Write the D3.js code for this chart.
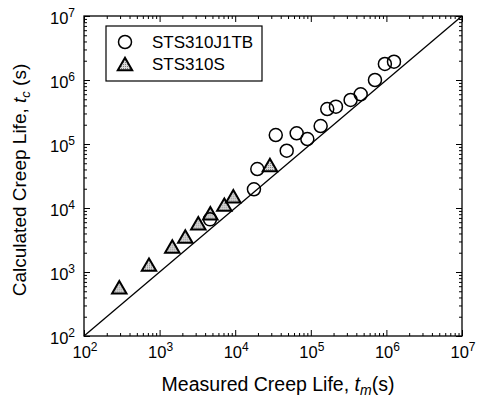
<!DOCTYPE html>
<html>
<head>
<meta charset="utf-8">
<script src="https://cdn.jsdelivr.net/npm/d3@7"></script>
<style>
  html, body { margin: 0; padding: 0; background: #fff; }
  svg { display: block; font-family: "Liberation Sans", Arial, sans-serif; }
</style>
</head>
<body>
<svg id="chart" width="477" height="401"></svg>
<script>
// Measured vs calculated creep life (seconds)
const seriesNames = ["STS310J1TB", "STS310S"];

const j1tbMeasured   = [4640, 17700, 19600, 34400, 48000, 65000, 90000, 135000, 165000, 215000, 336000, 457000, 706000, 955000, 1260000];
const j1tbCalculated = [6650, 19600, 40600, 138000, 78500, 147000, 119700, 191000, 352000, 383000, 487000, 598000, 1000000, 1780000, 1930000];

const s310Measured   = [293, 724, 1472, 2187, 3250, 4690, 7180, 9440, 28800];
const s310Calculated = [556, 1254, 2400, 3436, 5560, 7950, 10860, 14700, 45300];

const decadeTicks = [1e2, 1e3, 1e4, 1e5, 1e6, 1e7];
const decadeExponents = ["2", "3", "4", "5", "6", "7"];

const svg = d3.select("#chart");
const margin = { left: 84, right: 15, top: 16, bottom: 65 };
const W = 477, H = 401;
const x0 = margin.left, x1 = W - margin.right;
const y0 = H - margin.bottom, y1 = margin.top;

const x = d3.scaleLog().domain([1e2, 1e7]).range([x0, x1]);
const y = d3.scaleLog().domain([1e2, 1e7]).range([y0, y1]);

// minor ticks 2..9 in every decade
const minorTicks = [];
for (let e = 2; e < 7; e++) for (let m = 2; m <= 9; m++) minorTicks.push(m * Math.pow(10, e));

function tickAxis(axisGen, transform, major, minor) {
  const g = svg.append("g").attr("transform", transform);
  g.call(axisGen.tickValues(minor).tickSize(3).tickFormat(""));
  const g2 = svg.append("g").attr("transform", transform);
  g2.call(axisGen.tickValues(major).tickSize(6).tickFormat(""));
  [g, g2].forEach(gg => {
    gg.select(".domain").remove();
    gg.selectAll("line").attr("stroke", "#000").attr("stroke-width", 1);
  });
}

// inward ticks on all four sides
tickAxis(d3.axisTop(x), `translate(0,${y0})`, decadeTicks, minorTicks);
tickAxis(d3.axisBottom(x), `translate(0,${y1})`, decadeTicks, minorTicks);
tickAxis(d3.axisRight(y), `translate(${x0},0)`, decadeTicks, minorTicks);
tickAxis(d3.axisLeft(y), `translate(${x1},0)`, decadeTicks, minorTicks);

// frame
svg.append("rect")
  .attr("x", x0).attr("y", y1)
  .attr("width", x1 - x0).attr("height", y0 - y1)
  .attr("fill", "none").attr("stroke", "#000").attr("stroke-width", 1.3);

// 1:1 line
svg.append("line")
  .attr("x1", x(1e2)).attr("y1", y(1e2))
  .attr("x2", x(1e7)).attr("y2", y(1e7))
  .attr("stroke", "#000").attr("stroke-width", 1.3);

// tick labels as 10^n
function powerLabel(sel, exp) {
  sel.append("tspan").text("10");
  sel.append("tspan").attr("dy", -7).attr("font-size", 12).text(exp);
}
decadeTicks.forEach((v, i) => {
  const tx = svg.append("text")
    .attr("x", x(v) + 1).attr("y", y0 + 22)
    .attr("text-anchor", "middle").attr("font-size", 16.5).attr("fill", "#000");
  powerLabel(tx, decadeExponents[i]);
  const ty = svg.append("text")
    .attr("x", x0 - 9).attr("y", y(v) + 8)
    .attr("text-anchor", "end").attr("font-size", 16.5).attr("fill", "#000");
  powerLabel(ty, decadeExponents[i]);
});

// axis titles
const xt = svg.append("text")
  .attr("x", (x0 + x1) / 2 + 5).attr("y", 391)
  .attr("text-anchor", "middle").attr("font-size", 19.5).attr("fill", "#000");
xt.append("tspan").text("Measured Creep Life, ");
xt.append("tspan").attr("font-style", "italic").text("t");
xt.append("tspan").attr("font-style", "italic").attr("font-size", 14).attr("dy", 4).text("m");
xt.append("tspan").attr("dy", -4).text("(s)");

const yt = svg.append("text")
  .attr("transform", `translate(26,${(y0 + y1) / 2 + 4}) rotate(-90)`)
  .attr("text-anchor", "middle").attr("font-size", 19).attr("fill", "#000");
yt.append("tspan").text("Calculated Creep Life, ");
yt.append("tspan").attr("font-style", "italic").text("t");
yt.append("tspan").attr("font-style", "italic").attr("font-size", 13).attr("dy", 4).text("c");
yt.append("tspan").attr("dy", -4).text(" (s)");

// halftone fill for triangles
const defs = svg.append("defs");
const pat = defs.append("pattern").attr("id", "dots")
  .attr("patternUnits", "userSpaceOnUse").attr("width", 2).attr("height", 2);
pat.append("rect").attr("width", 2).attr("height", 2).attr("fill", "#dadada");
pat.append("rect").attr("width", 1).attr("height", 1).attr("fill", "#808080");

const triSym = d3.symbol().type(d3.symbolTriangle).size(90);
const circR = 6.5;

const s310 = s310Measured.map((m, i) => ({ m, c: s310Calculated[i] }));
const j1tb = j1tbMeasured.map((m, i) => ({ m, c: j1tbCalculated[i] }));

svg.append("g").selectAll("path").data(s310).join("path")
  .attr("d", triSym)
  .attr("transform", d => `translate(${x(d.m)},${y(d.c) + 1})`)
  .attr("fill", "url(#dots)").attr("stroke", "#000").attr("stroke-width", 2)
  .attr("stroke-linejoin", "miter");

svg.append("g").selectAll("circle").data(j1tb).join("circle")
  .attr("cx", d => x(d.m)).attr("cy", d => y(d.c)).attr("r", circR)
  .attr("fill", "none").attr("stroke", "#000").attr("stroke-width", 1.5);

// legend
const lg = svg.append("g");
lg.append("rect").attr("x", 106).attr("y", 26).attr("width", 156).attr("height", 55)
  .attr("fill", "#fff").attr("stroke", "#000").attr("stroke-width", 1.2);
lg.append("circle").attr("cx", 125).attr("cy", 42).attr("r", circR)
  .attr("fill", "none").attr("stroke", "#000").attr("stroke-width", 1.5);
lg.append("path").attr("d", triSym).attr("transform", "translate(125,66)")
  .attr("fill", "url(#dots)").attr("stroke", "#000").attr("stroke-width", 2);
lg.selectAll("text").data(seriesNames).join("text")
  .attr("x", 152).attr("y", (d, i) => 48 + i * 22)
  .attr("font-size", 17).attr("fill", "#000").text(d => d);
</script>
</body>
</html>
